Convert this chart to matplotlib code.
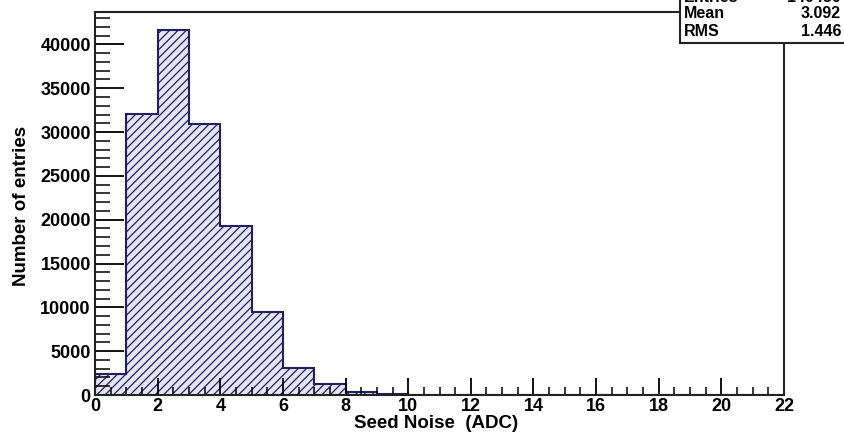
import numpy as np
import matplotlib
matplotlib.use('Agg')
import matplotlib.pyplot as plt
from matplotlib.patches import Rectangle
from matplotlib.ticker import MultipleLocator

plt.rcParams['font.family'] = ['Liberation Sans', 'DejaVu Sans']
plt.rcParams['font.weight'] = 'bold'
plt.rcParams['hatch.linewidth'] = 0.9

# histogram contents, one entry per 1-ADC bin from 0 to 22
bin_edges = np.arange(0, 23, 1)
counts = [2450, 32100, 41700, 30900, 19300, 9450, 3100, 1300, 300, 100,
          20, 5, 0, 0, 0, 0, 0, 0, 0, 0, 0, 0]

stat_names = ['Entries', 'Mean', 'RMS']
stat_values = ['140450', '3.092', '1.446']

x_label = 'Seed Noise  (ADC)'
y_label = 'Number of entries'

navy = '#20205a'
fill = '#e4e4f4'

fig = plt.figure(figsize=(8.44, 4.32), dpi=100)
W, H = 844, 432
ax = fig.add_axes([95 / W, (H - 395) / H, 689 / W, 383 / H])

ax.stairs(counts, bin_edges, fill=True, facecolor=fill, edgecolor=navy,
          hatch='////', linewidth=0)
ax.stairs(counts, bin_edges, fill=False, color=navy, linewidth=1.5)

ax.set_xlim(0, 22)
ax.set_ylim(0, 43700)

ax.xaxis.set_major_locator(MultipleLocator(2))
ax.xaxis.set_minor_locator(MultipleLocator(0.5))
ax.yaxis.set_major_locator(MultipleLocator(5000))
ax.yaxis.set_minor_locator(MultipleLocator(1000))

ax.tick_params(axis='x', which='major', direction='in', length=12, width=1.3,
               labelsize=13, pad=2, top=False)
ax.tick_params(axis='x', which='minor', direction='in', length=6, width=1.1,
               top=False)
ax.tick_params(axis='y', which='major', direction='in', length=21, width=1.3,
               labelsize=13, pad=3, right=False)
ax.tick_params(axis='y', which='minor', direction='in', length=11, width=1.1,
               right=False)

for sp in ax.spines.values():
    sp.set_linewidth(1.5)
    sp.set_color('#222222')

fig.text(518 / W, 1 - 423 / H, x_label, ha='right', va='center',
         fontsize=13.5, fontweight='bold')
fig.text(22 / W, 1 - 206 / H, y_label, ha='center', va='center',
         rotation=90, fontsize=13.5, fontweight='bold')

# stats box in the top right corner, partly cut by the figure edge
box = Rectangle((680 / W, 1 - 43 / H), 200 / W, 100 / H, transform=fig.transFigure,
                facecolor='white', edgecolor='#222222', linewidth=1.5,
                clip_on=False, zorder=5)
fig.add_artist(box)
row_y = [-3, 14, 32]
for name, val, yy in zip(stat_names, stat_values, row_y):
    fig.text(684 / W, 1 - yy / H, name, ha='left', va='center',
             fontsize=11.5, fontweight='bold', zorder=6)
    fig.text(841 / W, 1 - yy / H, val, ha='right', va='center',
             fontsize=11.5, fontweight='bold', zorder=6)

fig.savefig('out.png', dpi=100)
